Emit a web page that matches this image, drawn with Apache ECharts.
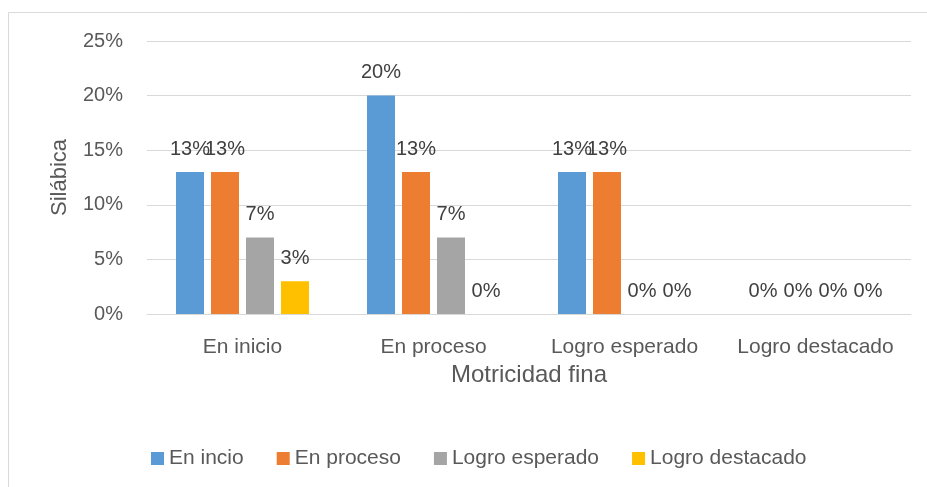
<!DOCTYPE html>
<html>
<head>
<meta charset="utf-8">
<script src="https://cdn.jsdelivr.net/npm/echarts@6/dist/echarts.min.js"></script>
<style>
  html, body { margin: 0; padding: 0; background: #fff; }
  #main { width: 927px; height: 487px; }
</style>
</head>
<body>
<div id="main"></div>
<script>
// datos
var categorias = ['En inicio', 'En proceso', 'Logro esperado', 'Logro destacado'];
var series_nombres = ['En incio', 'En proceso', 'Logro esperado', 'Logro destacado'];
var en_incio = [13, 20, 13, 0];
var en_proceso = [13, 13, 13, 0];
var logro_esperado = [7, 7, 0, 0];
var logro_destacado = [3, 0, 0, 0];
var colores = ['#5b9bd5', '#ed7d31', '#a5a5a5', '#ffc000'];

var fuente = '"Liberation Sans", Arial, sans-serif';

var dom = document.getElementById("main");
var myChart = echarts.init(dom);

function serie(nombre, datos) {
    return {
        name: nombre,
        type: 'bar',
        data: datos,
        barWidth: 28,
        barGap: '25%',
        label: {
            show: true,
            position: 'top',
            distance: 13,
            fontFamily: fuente,
            fontSize: 20,
            color: '#404040',
            formatter: function (p) { return p.value + '%'; }
        }
    };
}

var option = {
    animation: false,
    color: colores,
    textStyle: { fontFamily: fuente },
    graphic: [{
        type: 'rect',
        shape: { x: 8.5, y: 12.5, width: 940, height: 500 },
        style: { fill: 'none', stroke: '#d9d9d9', lineWidth: 1 },
        silent: true
    }],
    grid: {
        left: 147,
        right: 16,
        top: 41,
        bottom: 173
    },
    legend: {
        data: series_nombres,
        left: 146,
        top: 443,
        icon: 'rect',
        itemWidth: 13,
        itemHeight: 13,
        itemGap: 33,
        textStyle: { fontFamily: fuente, fontSize: 21, color: '#595959' }
    },
    xAxis: {
        type: 'category',
        data: categorias,
        name: 'Motricidad fina',
        nameLocation: 'middle',
        nameGap: 47,
        nameTextStyle: { fontFamily: fuente, fontSize: 24, color: '#595959' },
        axisLine: { lineStyle: { color: '#d9d9d9' } },
        axisTick: { show: false },
        axisLabel: { interval: 0, margin: 23, fontFamily: fuente, fontSize: 21, color: '#595959' }
    },
    yAxis: {
        type: 'value',
        min: 0,
        max: 25,
        interval: 5,
        name: 'Silábica',
        nameLocation: 'middle',
        nameGap: 76,
        nameTextStyle: { fontFamily: fuente, fontSize: 22, color: '#595959' },
        axisLine: { show: false },
        axisTick: { show: false },
        splitLine: { lineStyle: { color: '#d9d9d9' } },
        axisLabel: {
            margin: 24,
            fontFamily: fuente,
            fontSize: 20,
            color: '#595959',
            formatter: '{value}%'
        }
    },
    series: [
        serie(series_nombres[0], en_incio),
        serie(series_nombres[1], en_proceso),
        serie(series_nombres[2], logro_esperado),
        serie(series_nombres[3], logro_destacado)
    ]
};

if (option && typeof option === "object") {
    myChart.setOption(option, true);
}
</script>
</body>
</html>
